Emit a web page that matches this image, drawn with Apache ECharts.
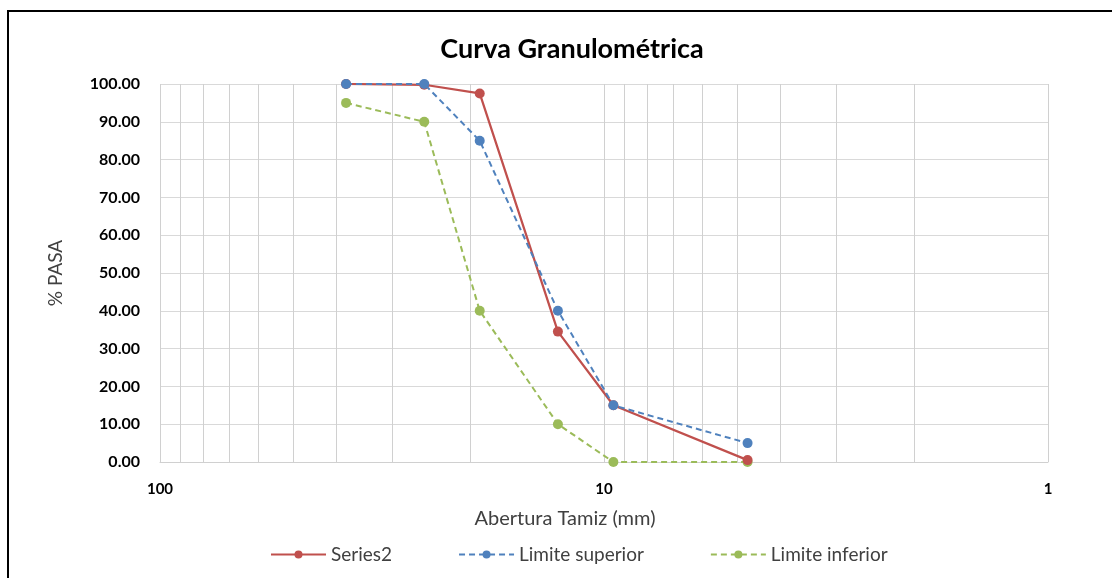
<!DOCTYPE html>
<html><head><meta charset="utf-8">
<script src="https://cdn.jsdelivr.net/npm/echarts@6/dist/echarts.min.js"></script>
<style>html,body{margin:0;padding:0;background:#fff}#c{width:1112px;height:578px}</style>
</head><body><div id="c"></div>
<script>
const sieveSizes = [38.1, 25.4, 19.05, 12.7, 9.525, 4.75];
const series2 = [100, 99.8, 97.5, 34.5, 15, 0.5];
const limiteSuperior = [100, 100, 85, 40, 15, 5];
const limiteInferior = [95, 90, 40, 10, 0, 0];
const minorGrid = [90, 80, 70, 60, 50, 40, 30, 20, 9, 8, 7, 6, 5, 4, 3, 2];

const FONT = 'Lato, "Open Sans", sans-serif';
const pair = (xs, ys) => xs.map((x, i) => [x, ys[i]]);

const chart = echarts.init(document.getElementById('c'), null, {renderer: 'canvas'});
chart.setOption({
  animation: false,
  backgroundColor: '#fff',
  textStyle: {fontFamily: FONT},
  graphic: [{
    type: 'rect', shape: {x: 8, y: 11, width: 1130, height: 600},
    style: {fill: 'none', stroke: '#000', lineWidth: 2}, silent: true
  }],
  title: {
    text: 'Curva Granulométrica', left: 567, top: 31, textAlign: 'center',
    textStyle: {fontFamily: FONT, fontSize: 27, fontWeight: 'bold', color: '#000'}
  },
  legend: {
    bottom: 9, left: 265, itemGap: 66, itemWidth: 55, itemHeight: 10,
    textStyle: {fontFamily: FONT, fontSize: 19, color: '#404040'},
    data: ['Series2', 'Limite superior', 'Limite inferior']
  },
  grid: {left: 160, right: 64, top: 84, bottom: 116},
  xAxis: {
    type: 'log', logBase: 10, min: 1, max: 100, inverse: true,
    name: 'Abertura Tamiz (mm)', nameLocation: 'middle', nameGap: 47,
    nameTextStyle: {fontFamily: FONT, fontSize: 20, color: '#404040', padding: [0, 78, 0, 0]},
    axisLine: {show: true, lineStyle: {color: '#d0d0d0'}},
    axisTick: {show: false},
    axisLabel: {fontFamily: FONT, fontSize: 15, fontWeight: 'bold', color: '#000', margin: 20},
    splitLine: {show: true, lineStyle: {color: '#d0d0d0', width: 1}}
  },
  yAxis: {
    type: 'value', min: 0, max: 100, interval: 10,
    name: '% PASA', nameLocation: 'middle', nameGap: 95, nameRotate: 90,
    nameTextStyle: {fontFamily: FONT, fontSize: 19, color: '#404040'},
    axisLine: {show: false}, axisTick: {show: false},
    axisLabel: {fontFamily: FONT, fontSize: 16, fontWeight: 'bold', color: '#000', margin: 20,
      formatter: v => v.toFixed(2)},
    splitLine: {show: true, lineStyle: {color: '#d9d9d9', width: 1}}
  },
  series: [
    {
      name: 'Series2', type: 'line', data: pair(sieveSizes, series2),
      symbol: 'circle', symbolSize: 10, z: 4,
      lineStyle: {color: '#C0504D', width: 2.25}, itemStyle: {color: '#C0504D'},
      markLine: {
        silent: true, symbol: 'none', label: {show: false}, z: 1,
        lineStyle: {color: '#d0d0d0', width: 1, type: 'solid'},
        data: minorGrid.map(v => ({xAxis: v}))
      }
    },
    {
      name: 'Limite superior', type: 'line', data: pair(sieveSizes, limiteSuperior),
      symbol: 'circle', symbolSize: 10, z: 5,
      lineStyle: {color: '#4F81BD', width: 2, type: [6, 4]}, itemStyle: {color: '#4F81BD'}
    },
    {
      name: 'Limite inferior', type: 'line', data: pair(sieveSizes, limiteInferior),
      symbol: 'circle', symbolSize: 10, z: 3,
      lineStyle: {color: '#9BBB59', width: 2, type: [6, 4]}, itemStyle: {color: '#9BBB59'}
    }
  ]
});
</script></body></html>
